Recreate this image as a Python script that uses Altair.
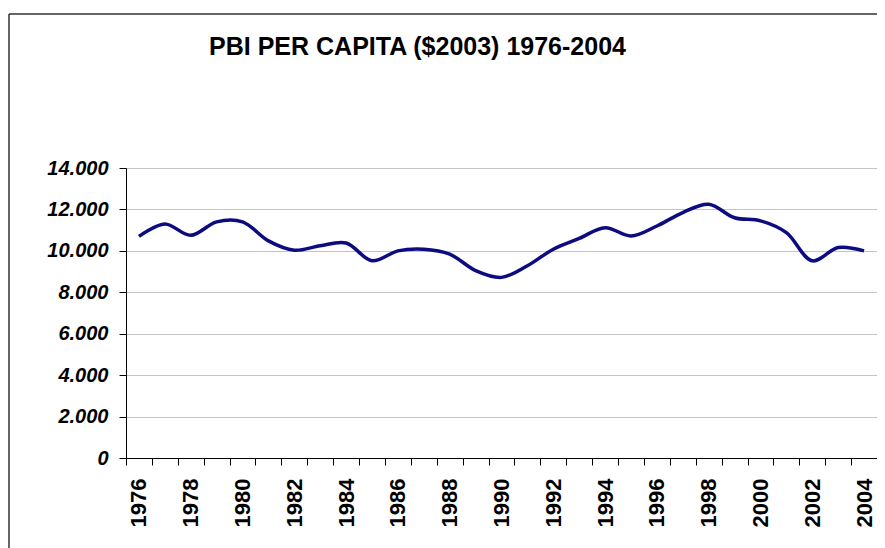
import altair as alt
import pandas as pd

years = list(range(1976, 2005))
pbi = [10700, 11300, 10750, 11400, 11400, 10480, 10030, 10250, 10380, 9520,
       10000, 10080, 9840, 9050, 8720, 9280, 10080, 10600, 11120, 10720,
       11200, 11850, 12250, 11600, 11450, 10880, 9520, 10160, 10000]
y_ticks = [0, 2000, 4000, 6000, 8000, 10000, 12000, 14000]
title_text = "PBI PER CAPITA ($2003) 1976-2004"

df = pd.DataFrame({"year": [str(y) for y in years], "pbi": pbi})

W, H = 751, 290
FONT = "Liberation Sans"

line = alt.Chart(df).mark_line(
    color="#0c0c80", strokeWidth=3.5, interpolate="catmull-rom"
).encode(
    x=alt.X("year:O", sort=None,
            scale=alt.Scale(type="band", paddingInner=0, paddingOuter=0),
            axis=alt.Axis(title=None, tickBand="extent", labelAngle=270,
                          labelExpr="toNumber(datum.value) % 2 == 0 ? datum.value : ''",
                          labelFont=FONT, labelFontSize=22, labelFontWeight="bold",
                          labelColor="black", labelPadding=13, tickSize=7,
                          tickColor="black", domainColor="black", labelOverlap=False,
                          labelFlush=False, grid=False)),
    y=alt.Y("pbi:Q", scale=alt.Scale(domain=[0, 14000], nice=False),
            axis=alt.Axis(title=None, values=y_ticks,
                          labelExpr="replace(format(datum.value, ','), ',', '.')",
                          labelFont=FONT, labelFontSize=20, labelFontWeight="bold",
                          labelFontStyle="italic", labelColor="black",
                          labelPadding=11, tickSize=7, tickColor="black",
                          domainColor="black", grid=True, gridColor="#c4c4c4"))
)

frame_df = pd.DataFrame({"a": [0]})
top_rule = alt.Chart(frame_df).mark_rule(color="#333333", strokeWidth=1.5).encode(
    x=alt.value(-117), x2=alt.value(W + 10), y=alt.value(-154))
left_rule = alt.Chart(frame_df).mark_rule(color="#333333", strokeWidth=1.5).encode(
    x=alt.value(-117), y=alt.value(-154), y2=alt.value(H + 100))

chart = alt.layer(line, top_rule, left_rule).properties(
    width=W, height=H,
    title=alt.TitleParams(title_text, font=FONT, fontSize=25, fontWeight="bold",
                          color="black", anchor="middle", dx=-84, offset=-47),
    autosize=alt.AutoSizeParams(type="none"),
    padding={"left": 118, "top": 160, "right": 0, "bottom": 90},
).configure_view(stroke=None)

chart.save("out.html", embed_options={"renderer": "svg", "actions": False})
